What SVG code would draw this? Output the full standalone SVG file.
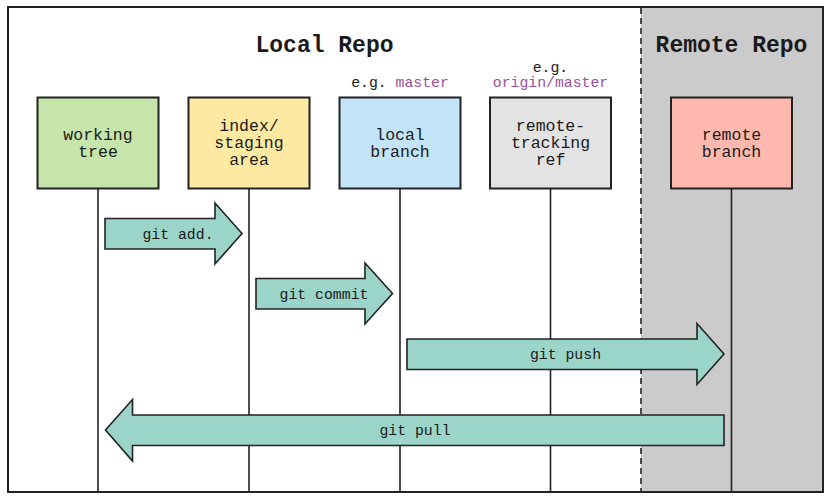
<svg xmlns="http://www.w3.org/2000/svg" width="833" height="500" viewBox="0 0 833 500">
<style>
text{font-family:"Liberation Mono","DejaVu Sans Mono",monospace;fill:#1a1a1a;text-anchor:middle}
.title{font-size:23px;font-weight:bold}
.lbl{font-size:16.5px}
.small{font-size:14.8px}
.purple{fill:#9b4f9e}
.box{stroke:#222;stroke-width:2}
.life{stroke:#222;stroke-width:1.6;fill:none}
.arrow{fill:#9bd4c8;stroke:#222;stroke-width:1.6;stroke-linejoin:miter}
.alabel{font-size:14.8px}
</style>
<rect x="0" y="0" width="833" height="500" fill="#fff"/>
<rect x="641" y="7" width="182" height="485" fill="#cbcbcb"/>
<line x1="641" y1="8" x2="641" y2="491" stroke="#222" stroke-width="1.6" stroke-dasharray="6,4"/>
<text class="title" x="324.5" y="52">Local Repo</text>
<text class="title" x="731.5" y="52">Remote Repo</text>
<g id="lifelines">
<line class="life" x1="98" y1="188" x2="98" y2="492"/>
<line class="life" x1="249" y1="188" x2="249" y2="492"/>
<line class="life" x1="400" y1="188" x2="400" y2="492"/>
<line class="life" x1="550.5" y1="188" x2="550.5" y2="492"/>
<line class="life" x1="731.5" y1="188" x2="731.5" y2="492"/>
</g>
<g id="working-tree">
<rect class="box" x="37.5" y="97.5" width="121" height="91" fill="#c6e5aa"/>
<text class="lbl" x="98" y="140">working</text>
<text class="lbl" x="98" y="157">tree</text>
</g>
<g id="index">
<rect class="box" x="188.5" y="97.5" width="121" height="91" fill="#fee9a3"/>
<text class="lbl" x="249" y="131">index/</text>
<text class="lbl" x="249" y="148">staging</text>
<text class="lbl" x="249" y="164.5">area</text>
</g>
<g id="local-branch">
<text class="small" x="400" y="87">e.g. <tspan class="purple">master</tspan></text>
<rect class="box" x="339.5" y="97.5" width="121" height="91" fill="#c3e3f6"/>
<text class="lbl" x="400" y="140">local</text>
<text class="lbl" x="400" y="157">branch</text>
</g>
<g id="remote-tracking">
<text class="small" x="550.5" y="71.5">e.g.</text>
<text class="small purple" x="550.5" y="87">origin/master</text>
<rect class="box" x="490" y="97.5" width="121" height="91" fill="#e3e3e3"/>
<text class="lbl" x="550.5" y="131">remote-</text>
<text class="lbl" x="550.5" y="148">tracking</text>
<text class="lbl" x="550.5" y="164.5">ref</text>
</g>
<g id="remote-branch">
<rect class="box" x="671" y="97.5" width="121" height="91" fill="#ffb8ae"/>
<text class="lbl" x="731.5" y="140">remote</text>
<text class="lbl" x="731.5" y="157">branch</text>
</g>
<g id="connectors">
<polygon class="arrow" points="105,218.5 215,218.5 215,203 242,233.5 215,264 215,249 105,249"/>
<text class="alabel" x="178" y="239">git add.</text>
<polygon class="arrow" points="256,278.5 365,278.5 365,263 392.5,293.5 365,324 365,309 256,309"/>
<text class="alabel" x="324" y="299">git commit</text>
<polygon class="arrow" points="407,339 697,339 697,323.5 724,354 697,384.5 697,369.5 407,369.5"/>
<text class="alabel" x="565.5" y="359">git push</text>
<polygon class="arrow" points="724,415 132.5,415 132.5,399.5 105.5,430 132.5,461 132.5,445.5 724,445.5"/>
<text class="alabel" x="415" y="435">git pull</text>
</g>
<rect x="8" y="7" width="815" height="485" fill="none" stroke="#222" stroke-width="2"/>
</svg>
